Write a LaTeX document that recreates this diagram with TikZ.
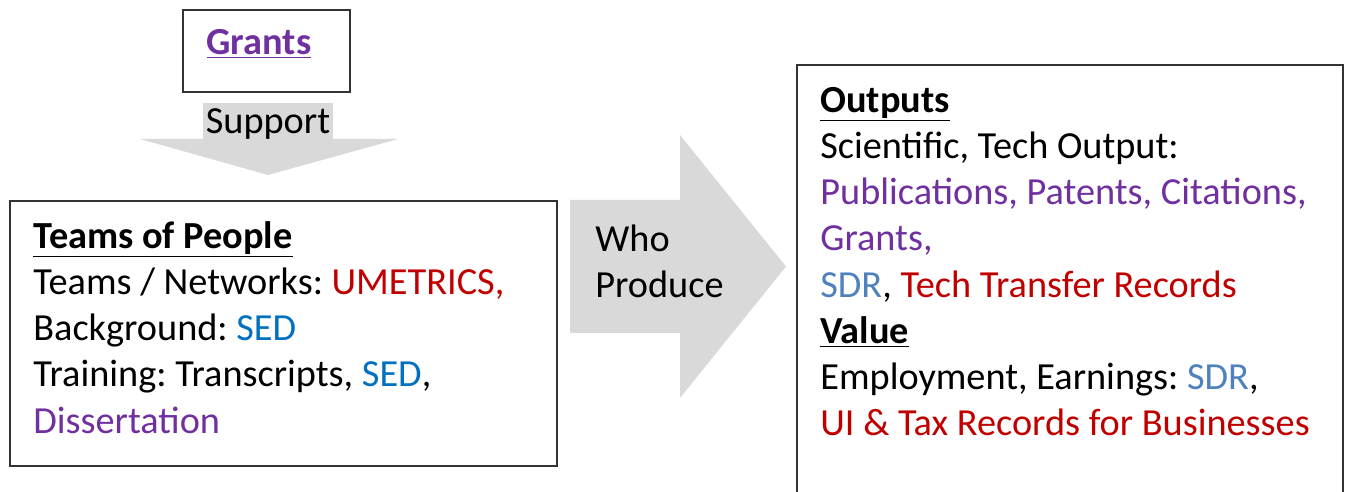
\documentclass[tikz,border=0pt]{standalone}
\usepackage{fontspec}
\setmainfont{Carlito}
\usetikzlibrary{positioning}
\frenchspacing

\definecolor{grantpurple}{RGB}{112,48,160}
\definecolor{recordred}{RGB}{192,0,0}
\definecolor{sedblue}{RGB}{0,112,192}
\definecolor{sdrblue}{RGB}{79,129,189}

\begin{document}
\begin{tikzpicture}[x=0.02cm, y=-0.02cm,
                frame/.style={draw=black!80, line width=1pt, inner sep=0pt},
                body/.style={align=left, inner sep=0pt, anchor=north west, font=\fontsize{21.8}{26.3}\selectfont},
                flow/.style={fill=gray!30, draw=none}
            ]
                \useasboundingbox (0,0) rectangle (1350,492);

                % frames
                \node[frame, minimum width=3.34cm, minimum height=1.64cm] (grantsbox) at (266.5,51) {};
                \node[frame, minimum width=10.94cm, minimum height=5.3cm] (teamsbox) at (283.5,333.5) {};
                \node[frame, minimum width=10.92cm, minimum height=9.1cm] (outbox) at (1070,292.5) {};

                % grants on top
                \node[anchor=base, inner sep=0pt, font=\fontsize{21.8}{26.3}\selectfont\bfseries, text=grantpurple] (grants) at (259,55) {\underline{Grants}};

                % support arrow down
                \node[flow, minimum width=2.6cm, minimum height=0.84cm, inner sep=0pt, font=\fontsize{21.8}{26.3}\selectfont] (support) at (268,124) {Support};
                \fill[gray!30] (140,139) -- (398,139) -- (268,175) -- cycle;

                % who produce arrow right
                \fill[gray!30] (570,200) -- (680,200) -- (680,135) -- (786,266.5) -- (680,398) -- (680,333) -- (570,333) -- cycle;
                \node[body] (produce) at (595,218.6) {\strut Who\\Produce};

                % teams
                \node[body] (teams) at (33,215.6) {\strut\underline{\textbf{Teams of People}}\\
                    Teams / Networks: \textcolor{recordred}{UMETRICS,}\\
                    Background: \textcolor{sedblue}{SED}\\
                    Training: Transcripts, \textcolor{sedblue}{SED},\\
                    \textcolor{grantpurple}{Dissertation}};

                % outputs and value
                \node[body] (outputs) at (820,79.6) {\strut\underline{\textbf{Outputs}}\\
                    Scientific, Tech Output:\\
                    \textcolor{grantpurple}{Publications, Patents, Citations,}\\
                    \textcolor{grantpurple}{Grants,}\\
                    \textcolor{sdrblue}{SDR}, \textcolor{recordred}{Tech Transfer Records}\\
                    \underline{\textbf{Value}}\\
                    Employment, Earnings: \textcolor{sdrblue}{SDR},\\
                    \textcolor{recordred}{UI \& Tax Records for Businesses}};
            \end{tikzpicture}
\end{document}
